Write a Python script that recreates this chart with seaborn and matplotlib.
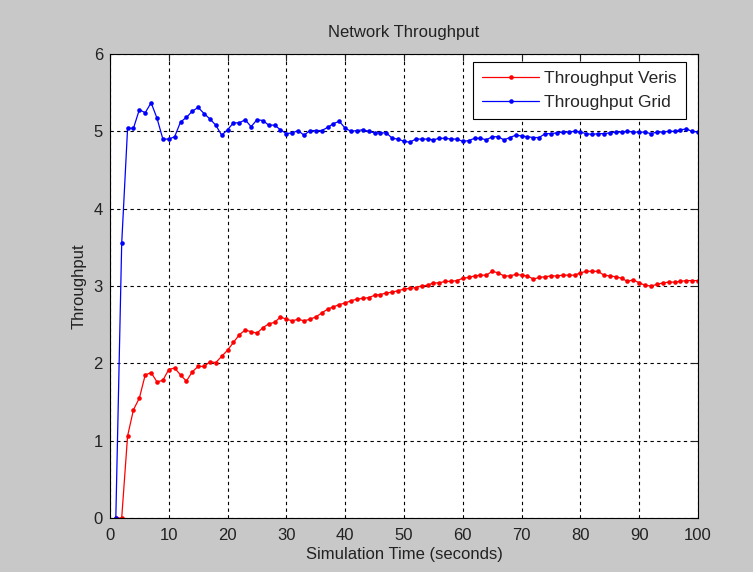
import numpy as np
import pandas as pd
import matplotlib
matplotlib.use("Agg")
import matplotlib.pyplot as plt
import seaborn as sns

time_s = list(range(1, 101))

throughput_grid = [
    0.00, 3.55, 5.04, 5.04, 5.28, 5.24, 5.37, 5.17, 4.90, 4.90,
    4.93, 5.12, 5.18, 5.26, 5.31, 5.23, 5.16, 5.08, 4.95, 5.02,
    5.11, 5.11, 5.15, 5.06, 5.15, 5.14, 5.08, 5.08, 5.02, 4.97,
    4.98, 5.01, 4.95, 5.01, 5.01, 5.01, 5.05, 5.10, 5.13, 5.04,
    5.00, 5.01, 5.02, 5.00, 4.98, 4.98, 4.98, 4.91, 4.90, 4.87,
    4.86, 4.90, 4.90, 4.90, 4.89, 4.91, 4.91, 4.90, 4.90, 4.87,
    4.88, 4.91, 4.91, 4.89, 4.93, 4.93, 4.89, 4.92, 4.95, 4.94,
    4.93, 4.92, 4.92, 4.97, 4.97, 4.98, 4.99, 4.99, 5.00, 4.99,
    4.97, 4.96, 4.97, 4.97, 4.98, 4.99, 4.99, 5.00, 4.99, 4.99,
    4.99, 4.97, 4.99, 4.99, 5.00, 5.00, 5.02, 5.03, 5.00, 4.99,
]

throughput_veris = [
    0.00, 0.00, 1.06, 1.40, 1.55, 1.85, 1.88, 1.76, 1.78, 1.92,
    1.94, 1.85, 1.77, 1.89, 1.96, 1.96, 2.02, 2.01, 2.09, 2.17,
    2.27, 2.37, 2.43, 2.41, 2.39, 2.46, 2.51, 2.53, 2.60, 2.57,
    2.55, 2.57, 2.55, 2.57, 2.60, 2.65, 2.70, 2.73, 2.76, 2.78,
    2.81, 2.83, 2.84, 2.85, 2.88, 2.89, 2.91, 2.92, 2.94, 2.96,
    2.97, 2.98, 3.00, 3.01, 3.04, 3.04, 3.06, 3.06, 3.07, 3.10,
    3.11, 3.13, 3.14, 3.14, 3.19, 3.17, 3.13, 3.13, 3.15, 3.14,
    3.13, 3.09, 3.11, 3.12, 3.13, 3.13, 3.14, 3.14, 3.14, 3.17,
    3.19, 3.19, 3.19, 3.14, 3.13, 3.12, 3.10, 3.06, 3.08, 3.04,
    3.01, 3.00, 3.02, 3.04, 3.05, 3.05, 3.06, 3.07, 3.07, 3.07,
]

series_names = ["Throughput Veris", "Throughput Grid"]
series_colors = ["#ff0000", "#0000ff"]

x_ticks = [0, 10, 20, 30, 40, 50, 60, 70, 80, 90, 100]
y_ticks = [0, 1, 2, 3, 4, 5, 6]

df = pd.DataFrame({
    "t": time_s + time_s,
    "v": throughput_veris + throughput_grid,
    "series": [series_names[0]] * len(time_s) + [series_names[1]] * len(time_s),
})

sns.set_theme(style="white")
plt.rcParams["font.family"] = ["Liberation Sans", "DejaVu Sans"]

fig = plt.figure(figsize=(7.53, 5.72), dpi=100)
fig.patch.set_facecolor("#c8c8c8")
ax = fig.add_axes([0.146, 0.0944, 0.781, 0.8112])
ax.set_facecolor("white")

sns.lineplot(data=df, x="t", y="v", hue="series", hue_order=series_names,
             palette=dict(zip(series_names, series_colors)), marker="o",
             markersize=3.3, markeredgewidth=0, linewidth=0.9, ax=ax,
             errorbar=None, sort=False)

ax.set_xlim(0, 100)
ax.set_ylim(0, 6)
ax.set_xticks(x_ticks)
ax.set_yticks(y_ticks)
ax.grid(True, color="black", linestyle=(0, (3, 3)), linewidth=0.8)
ax.set_axisbelow(True)
ax.tick_params(direction="in", length=5, width=0.8, top=True, right=True,
               labelsize=12, colors="#222222")
ax.tick_params(axis="x", pad=7)
ax.tick_params(axis="y", pad=5)
for sp in ax.spines.values():
    sp.set_color("black")
    sp.set_linewidth(0.8)

ax.set_title("Network Throughput", fontsize=12, pad=12, color="#222222")
ax.set_xlabel("Simulation Time (seconds)", fontsize=12, labelpad=3, color="#222222")
ax.set_ylabel("Throughput", fontsize=12, labelpad=5, color="#222222")

leg = ax.legend(loc="upper right", fontsize=12.5, frameon=True, fancybox=False,
                edgecolor="black", framealpha=1, borderpad=0.5,
                handlelength=3.3, handletextpad=0.3, labelspacing=0.55,
                borderaxespad=0, bbox_to_anchor=(0.979, 0.983))
leg.get_frame().set_linewidth(0.8)

fig.savefig("out.png", dpi=100, facecolor=fig.get_facecolor())
